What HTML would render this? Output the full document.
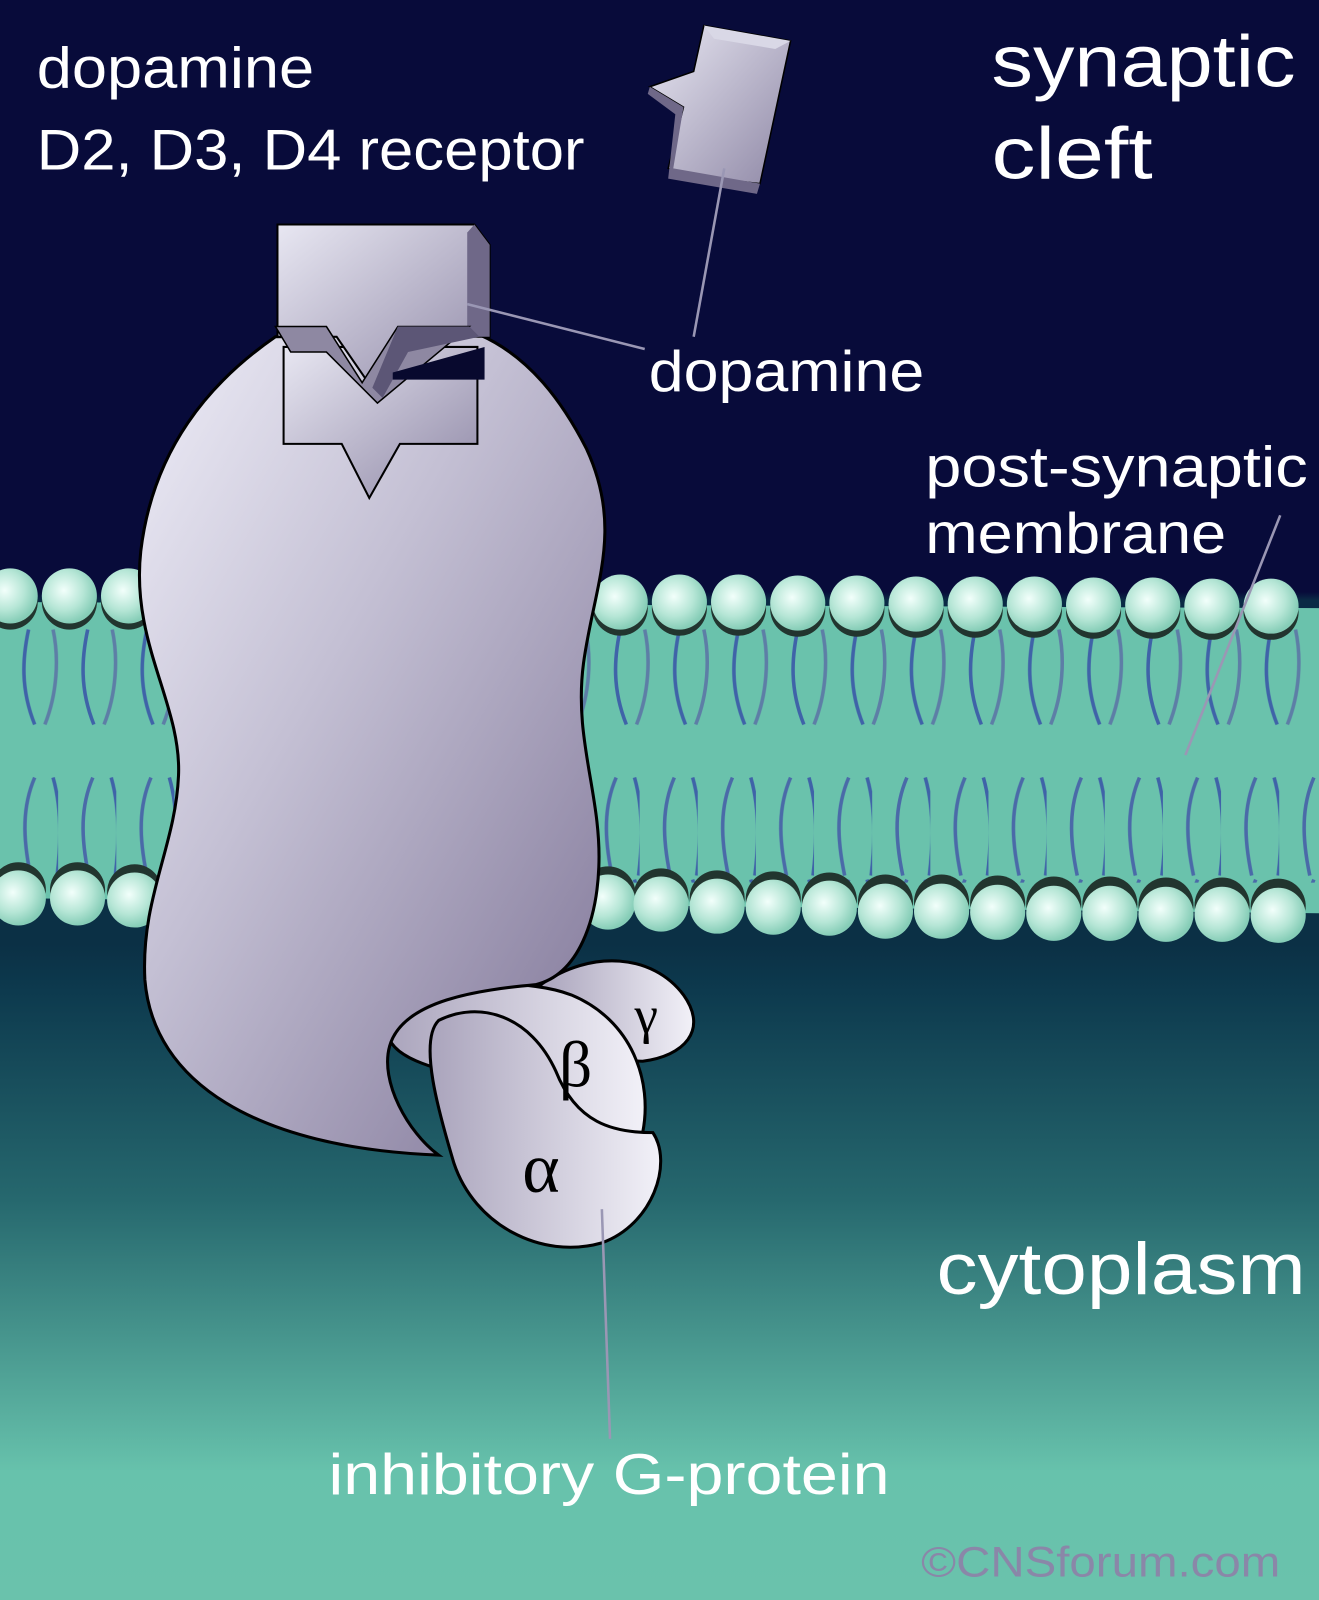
<!DOCTYPE html>
<html><head><meta charset="utf-8"><style>html,body{margin:0;padding:0;background:#080b3a}svg{display:block}</style></head>
<body>
<svg width="1319" height="1600" viewBox="0 0 1293 1568" preserveAspectRatio="none" xmlns="http://www.w3.org/2000/svg">
<defs>
<linearGradient id="bg" x1="0" y1="0" x2="0" y2="1">
<stop offset="0" stop-color="#080b3a"/><stop offset="0.37" stop-color="#080b3a"/>
<stop offset="0.375" stop-color="#0a2a45"/><stop offset="0.59" stop-color="#0b3045"/>
<stop offset="0.62" stop-color="#0d3a4e"/><stop offset="0.75" stop-color="#26686e"/>
<stop offset="0.92" stop-color="#67c2ac"/><stop offset="1" stop-color="#6ac2ac"/>
</linearGradient>
<radialGradient id="head" cx="0.4" cy="0.4" r="0.6">
<stop offset="0" stop-color="#f2fffb"/><stop offset="0.6" stop-color="#b6e6d6"/><stop offset="1" stop-color="#86cdb7"/>
</radialGradient>
<linearGradient id="prot" x1="0" y1="0" x2="1" y2="1">
<stop offset="0" stop-color="#efeef8"/><stop offset="0.4" stop-color="#c4c0d4"/><stop offset="1" stop-color="#7e7496"/>
</linearGradient>
<linearGradient id="gp" x1="0" y1="0" x2="1" y2="0">
<stop offset="0" stop-color="#aaa4bc"/><stop offset="1" stop-color="#f2f1f8"/>
</linearGradient>
<linearGradient id="blk" x1="0" y1="0" x2="1" y2="1">
<stop offset="0" stop-color="#e8e7f2"/><stop offset="1" stop-color="#8f88a6"/>
</linearGradient>
<pattern id="tailsU" x="0" y="615" width="58" height="100" patternUnits="userSpaceOnUse">
<path d="M28 2 C22 30 20 60 34 95" stroke="#3f63a8" stroke-width="3.5" fill="none"/>
<path d="M52 2 C58 30 56 65 44 95" stroke="#5d7ea6" stroke-width="3.5" fill="none"/>
</pattern>
<pattern id="tailsL" x="0" y="760" width="57" height="100" patternUnits="userSpaceOnUse">
<path d="M34 2 C22 30 22 60 30 98" stroke="#4a6aa8" stroke-width="3.5" fill="none"/>
<path d="M52 2 C60 30 60 65 56 98" stroke="#3f63a8" stroke-width="3.5" fill="none"/>
</pattern>
</defs>
<rect width="1293" height="1568" fill="url(#bg)"/>
<path d="M0 590 L1293 596 L1293 895 L0 880 Z" fill="#6ac2ac"/>
<rect x="0" y="615" width="1293" height="100" fill="url(#tailsU)"/>
<rect x="0" y="760" width="1293" height="105" fill="url(#tailsL)"/>
<g fill="#22352f">
<circle cx="10" cy="590" r="27"/><circle cx="68" cy="590" r="27"/><circle cx="126" cy="590" r="27"/>
<circle cx="608" cy="596" r="27"/><circle cx="666" cy="596" r="27"/><circle cx="724" cy="596" r="27"/><circle cx="782" cy="597" r="27"/><circle cx="840" cy="597" r="27"/><circle cx="898" cy="598" r="27"/><circle cx="956" cy="598" r="27"/><circle cx="1014" cy="598" r="27"/><circle cx="1072" cy="599" r="27"/><circle cx="1130" cy="599" r="27"/><circle cx="1188" cy="600" r="27"/><circle cx="1246" cy="600" r="27"/>
</g>
<g fill="url(#head)">
<circle cx="10" cy="584" r="27"/><circle cx="68" cy="584" r="27"/><circle cx="126" cy="584" r="27"/>
<circle cx="608" cy="590" r="27"/><circle cx="666" cy="590" r="27"/><circle cx="724" cy="590" r="27"/><circle cx="782" cy="591" r="27"/><circle cx="840" cy="591" r="27"/><circle cx="898" cy="592" r="27"/><circle cx="956" cy="592" r="27"/><circle cx="1014" cy="592" r="27"/><circle cx="1072" cy="593" r="27"/><circle cx="1130" cy="593" r="27"/><circle cx="1188" cy="594" r="27"/><circle cx="1246" cy="594" r="27"/>
</g>
<g fill="#22352f">
<circle cx="18" cy="872" r="27"/><circle cx="76" cy="872" r="27"/><circle cx="132" cy="874" r="27"/>
<circle cx="596" cy="876" r="27"/><circle cx="648" cy="878" r="27"/><circle cx="703" cy="880" r="27"/><circle cx="758" cy="881" r="27"/><circle cx="813" cy="882" r="27"/><circle cx="868" cy="884" r="27"/><circle cx="923" cy="884" r="27"/><circle cx="978" cy="885" r="27"/><circle cx="1033" cy="886" r="27"/><circle cx="1088" cy="886" r="27"/><circle cx="1143" cy="887" r="27"/><circle cx="1198" cy="887" r="27"/><circle cx="1253" cy="888" r="27"/>
</g>
<g fill="url(#head)">
<circle cx="18" cy="880" r="27"/><circle cx="76" cy="880" r="27"/><circle cx="132" cy="882" r="27"/>
<circle cx="596" cy="884" r="27"/><circle cx="648" cy="886" r="27"/><circle cx="703" cy="888" r="27"/><circle cx="758" cy="889" r="27"/><circle cx="813" cy="890" r="27"/><circle cx="868" cy="893" r="27"/><circle cx="923" cy="893" r="27"/><circle cx="978" cy="894" r="27"/><circle cx="1033" cy="895" r="27"/><circle cx="1088" cy="895" r="27"/><circle cx="1143" cy="896" r="27"/><circle cx="1198" cy="896" r="27"/><circle cx="1253" cy="897" r="27"/>
</g>
<path d="M530 965 C580 930 640 935 670 975 C695 1010 670 1035 630 1040 C590 1040 540 1010 530 965 Z" fill="url(#gp)" stroke="#000" stroke-width="3"/>
<path d="M400 985 C450 960 520 960 560 975 C620 1000 640 1060 630 1110 C580 1120 520 1090 480 1060 C440 1050 380 1040 380 1010 C380 995 390 990 400 985 Z" fill="url(#gp)" stroke="#000" stroke-width="3"/>
<path d="M430 1000 C470 980 520 995 545 1050 C565 1100 600 1110 640 1110 C660 1140 640 1200 590 1218 C530 1235 465 1200 445 1140 C430 1090 410 1020 430 1000 Z" fill="url(#gp)" stroke="#000" stroke-width="3"/>
<text x="548" y="1065" font-family="Liberation Serif, serif" font-size="64">β</text>
<text x="622" y="1012" font-family="Liberation Serif, serif" font-size="52">γ</text>
<text x="512" y="1168" font-family="Liberation Serif, serif" font-size="70">α</text>
<path d="M270 330 C205 375 150 440 138 540 C128 630 178 690 175 760 C172 830 138 880 142 960 C150 1060 250 1125 430 1132 C400 1110 372 1060 382 1025 C395 980 470 970 525 965 C568 955 585 900 587 850 C590 780 562 725 572 650 C582 575 612 520 575 440 C552 395 520 350 470 328 Z" fill="url(#prot)" stroke="#000" stroke-width="3"/>
<path d="M278 340 L468 340 L468 435 L392 435 L362 488 L335 435 L278 435 Z" fill="url(#blk)" stroke="#000" stroke-width="2"/>
<path d="M272 220 L465 220 L480 240 L480 330 L400 330 L370 388 L330 330 L272 330 Z" fill="url(#blk)" stroke="#000" stroke-width="2"/>
<path d="M465 220 L480 240 L480 330 L458 330 L458 228 Z" fill="#6f6888"/>
<path d="M270 320 L320 320 L355 375 L390 320 L460 320 L370 395 L320 345 L285 345 Z" fill="#8e88a2" stroke="#000" stroke-width="1.5"/>
<path d="M390 320 L460 320 L470 330 L400 345 L375 390 L365 380 Z" fill="#5c5676"/>
<path d="M385 365 L475 340 L475 372 L385 372 Z" fill="#08092e"/>
<path d="M690 25 L775 40 L745 180 L700 175 L655 165 L670 105 L637 85 L680 70 Z" fill="url(#blk)" stroke="#000" stroke-width="1.5"/>
<path d="M690 25 L775 40 L760 48 L700 38 Z" fill="#d9d8e6"/>
<path d="M637 85 L670 105 L660 165 L745 180 L742 190 L655 175 L662 112 L635 92 Z" fill="#6f6888"/>
<g stroke="#9a97b4" stroke-width="2.5" fill="none">
<line x1="458" y1="298" x2="632" y2="342"/>
<line x1="710" y1="165" x2="680" y2="330"/>
<line x1="1255" y1="505" x2="1162" y2="740"/>
<line x1="590" y1="1185" x2="598" y2="1410"/>
</g>
<g font-family="Liberation Sans, sans-serif" fill="#fff" lengthAdjust="spacingAndGlyphs">
<text x="36" y="86" font-size="56" textLength="272" lengthAdjust="spacingAndGlyphs">dopamine</text>
<text x="36" y="166" font-size="56" textLength="537" lengthAdjust="spacingAndGlyphs">D2, D3, D4 receptor</text>
<text x="972" y="85" font-size="72" textLength="298" lengthAdjust="spacingAndGlyphs">synaptic</text>
<text x="972" y="175" font-size="72" textLength="158" lengthAdjust="spacingAndGlyphs">cleft</text>
<text x="636" y="383" font-size="56" textLength="270" lengthAdjust="spacingAndGlyphs">dopamine</text>
<text x="907" y="477" font-size="56" textLength="375" lengthAdjust="spacingAndGlyphs">post-synaptic</text>
<text x="907" y="542" font-size="56" textLength="295" lengthAdjust="spacingAndGlyphs">membrane</text>
<text x="918" y="1268" font-size="72" textLength="362" lengthAdjust="spacingAndGlyphs">cytoplasm</text>
<text x="322" y="1464" font-size="56" textLength="550" lengthAdjust="spacingAndGlyphs">inhibitory G-protein</text>
<text x="903" y="1545" font-size="42" fill="#8a87a8" textLength="352" lengthAdjust="spacingAndGlyphs">©CNSforum.com</text>
</g>
</svg>
</body></html>
